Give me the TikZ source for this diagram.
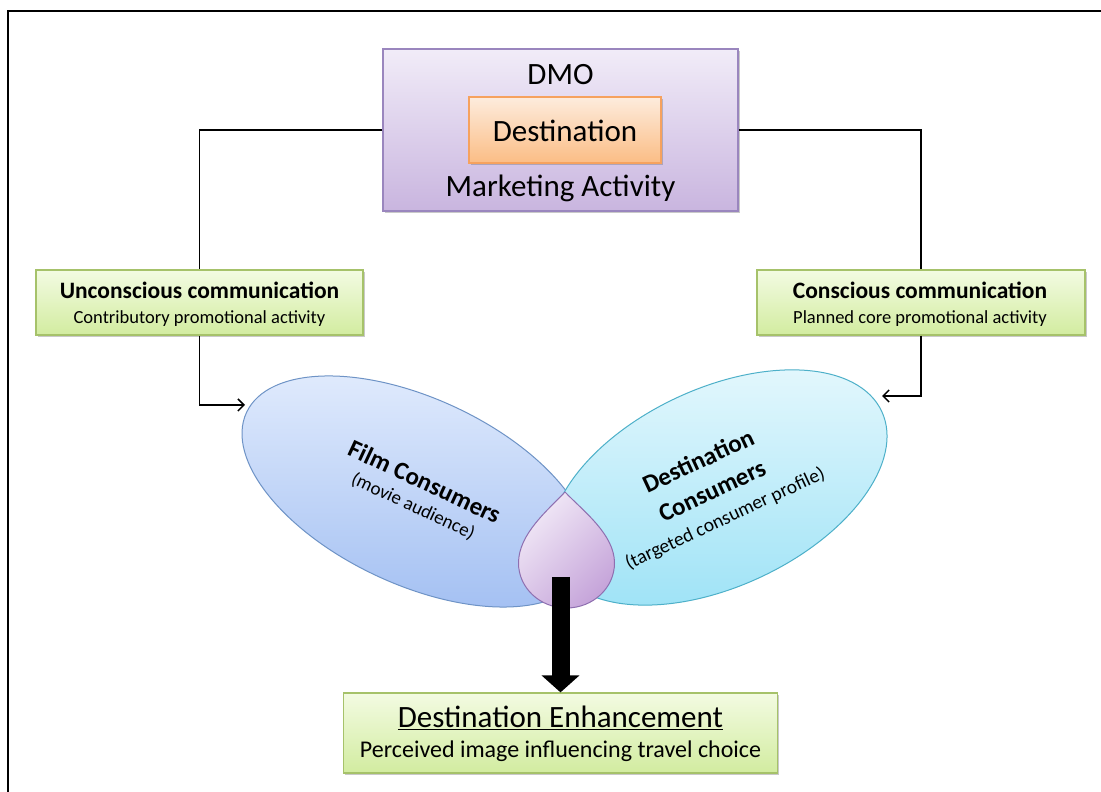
\documentclass[tikz,border=0pt]{standalone}
\usepackage{fontspec}
\setmainfont{Carlito}
\usetikzlibrary{shapes.geometric,arrows.meta,shadows,calc}
\definecolor{dmoTop}{HTML}{F1ECF8}
\definecolor{dmoBot}{HTML}{C9B5DF}
\definecolor{dmoLine}{HTML}{9A86BE}
\definecolor{orTop}{HTML}{FDECDD}
\definecolor{orBot}{HTML}{FBBD85}
\definecolor{orLine}{HTML}{F6A25E}
\definecolor{grTop}{HTML}{F3FBE2}
\definecolor{grBot}{HTML}{D2ECA0}
\definecolor{grLine}{HTML}{A6C26A}
\definecolor{blTop}{HTML}{E2ECFD}
\definecolor{blBot}{HTML}{A2BFF2}
\definecolor{blLine}{HTML}{6E93C6}
\definecolor{cyTop}{HTML}{E6F8FD}
\definecolor{cyBot}{HTML}{9CE2F6}
\definecolor{cyLine}{HTML}{4DB0C9}
\definecolor{drTop}{HTML}{F2EAF7}
\definecolor{drBot}{HTML}{C6A5DA}
\definecolor{drLine}{HTML}{8E6FB0}
\begin{document}
\begin{tikzpicture}[x=1pt,y=1pt,
  shadowed/.style={drop shadow={shadow xshift=1.5pt,shadow yshift=-2pt,opacity=0.35,fill=black!60}},
  dmobox/.style={rectangle,draw=dmoLine,line width=1.2pt,top color=dmoTop,bottom color=dmoBot,
    minimum width=355pt,minimum height=162pt,inner sep=0pt,shadowed},
  orbox/.style={rectangle,draw=orLine,line width=1.2pt,top color=orTop,bottom color=orBot,
    minimum width=192pt,minimum height=66pt,inner sep=0pt,shadowed},
  grbox/.style={rectangle,draw=grLine,line width=1.2pt,top color=grTop,bottom color=grBot,
    inner sep=0pt,shadowed},
  bigtxt/.style={font=\fontsize{31}{36}\selectfont,anchor=base,inner sep=0pt},
  gtitle/.style={font=\fontsize{23.5}{28}\selectfont\bfseries,anchor=base,inner sep=0pt},
  gsub/.style={font=\fontsize{18.5}{22}\selectfont,anchor=base,inner sep=0pt},
  eltext/.style={inner sep=0pt},
  conn/.style={line width=1.5pt,draw=black},
  connarrow/.style={conn,-{Straight Barb[length=6pt,width=12pt]}},
  bigarrow/.style={line width=18pt,-{Triangle[length=17pt,width=37pt]}}
]
\useasboundingbox (0,0) rectangle (1101,792);
\fill[white] (0,0) rectangle (1101,792);
% frame
\draw[line width=2.8pt] (8,0) -- (8,781) -- (1101,781);

% top DMO box
\node[dmobox] (dmo) at (560.5,662) {};
\node[orbox] (dest) at (565,662) {};
\node[bigtxt] (dmotxt) at (560.5,707) {DMO};
\node[bigtxt] (desttxt) at (565,650.3) {Destination};
\node[bigtxt] (mktxt) at (560.5,595.3) {Marketing Activity};

% green boxes
\node[grbox,minimum width=327pt,minimum height=65pt] (unc) at (199.5,489.5) {};
\node[gtitle] (unct) at (199.5,493.7) {Unconscious communication};
\node[gsub] (uncs) at (199.5,468.7) {Contributory promotional activity};
\node[grbox,minimum width=328pt,minimum height=65pt] (con) at (921,489.5) {};
\node[gtitle] (cont) at (920,493.7) {Conscious communication};
\node[gsub] (cons) at (920,468.7) {Planned core promotional activity};

% connectors from DMO
\draw[conn] (dmo.west) -| (unc.north);
\draw[conn] (dmo.east) -| (con.north);

% ellipses
\node[ellipse,draw=blLine,line width=1pt,top color=blTop,bottom color=blBot,
  rotate=-25,minimum width=374pt,minimum height=186pt,inner sep=0pt] (film) at (416,300.5) {};
\node[ellipse,draw=cyLine,line width=1pt,top color=cyTop,bottom color=cyBot,
  rotate=25,minimum width=360pt,minimum height=198pt,inner sep=0pt] (destc) at (718.6,304.5) {};

\coordinate (filmin) at (245,387);
\coordinate (destin) at (882,396);
\draw[connarrow] (unc.south) |- (filmin);
\draw[connarrow] (con.south) |- (destin);

% drop
\draw[drLine,line width=1pt,top color=drTop,bottom color=drBot,shading angle=45]
  (565,300) .. controls (548,282) and (518.5,258) .. (518.5,229)
  arc[start angle=180,end angle=360,x radius=48,y radius=45]
  .. controls (614.5,258) and (582,282) .. (565,300) -- cycle;
\coordinate (drop) at (560.5,215);

% ellipse texts
\node[eltext,rotate=-25,align=center,font=\fontsize{25}{30}\selectfont\bfseries] (filmt) at (419.1,298.3)
  {Film Consumers\\[-5.6pt]{\fontsize{19}{23}\selectfont\mdseries (movie audience)}};
\node[eltext,rotate=25,align=center,font=\fontsize{25}{32.8}\selectfont\bfseries] (destt) at (711.6,302.2)
  {Destination\\Consumers\\[-4.7pt]{\fontsize{19.5}{23}\selectfont\mdseries (targeted consumer profile)}};

% bottom box
\node[grbox,minimum width=434pt,minimum height=80pt] (enh) at (560.5,59) {};
\node[bigtxt] (enht) at (560.5,64) {\underline{Destination Enhancement}};
\node[gsub,font=\fontsize{24}{28}\selectfont] (enhs) at (560.5,34) {Perceived image influencing travel choice};

\draw[bigarrow] (drop) -- (enh.north);
\end{tikzpicture}
\end{document}
